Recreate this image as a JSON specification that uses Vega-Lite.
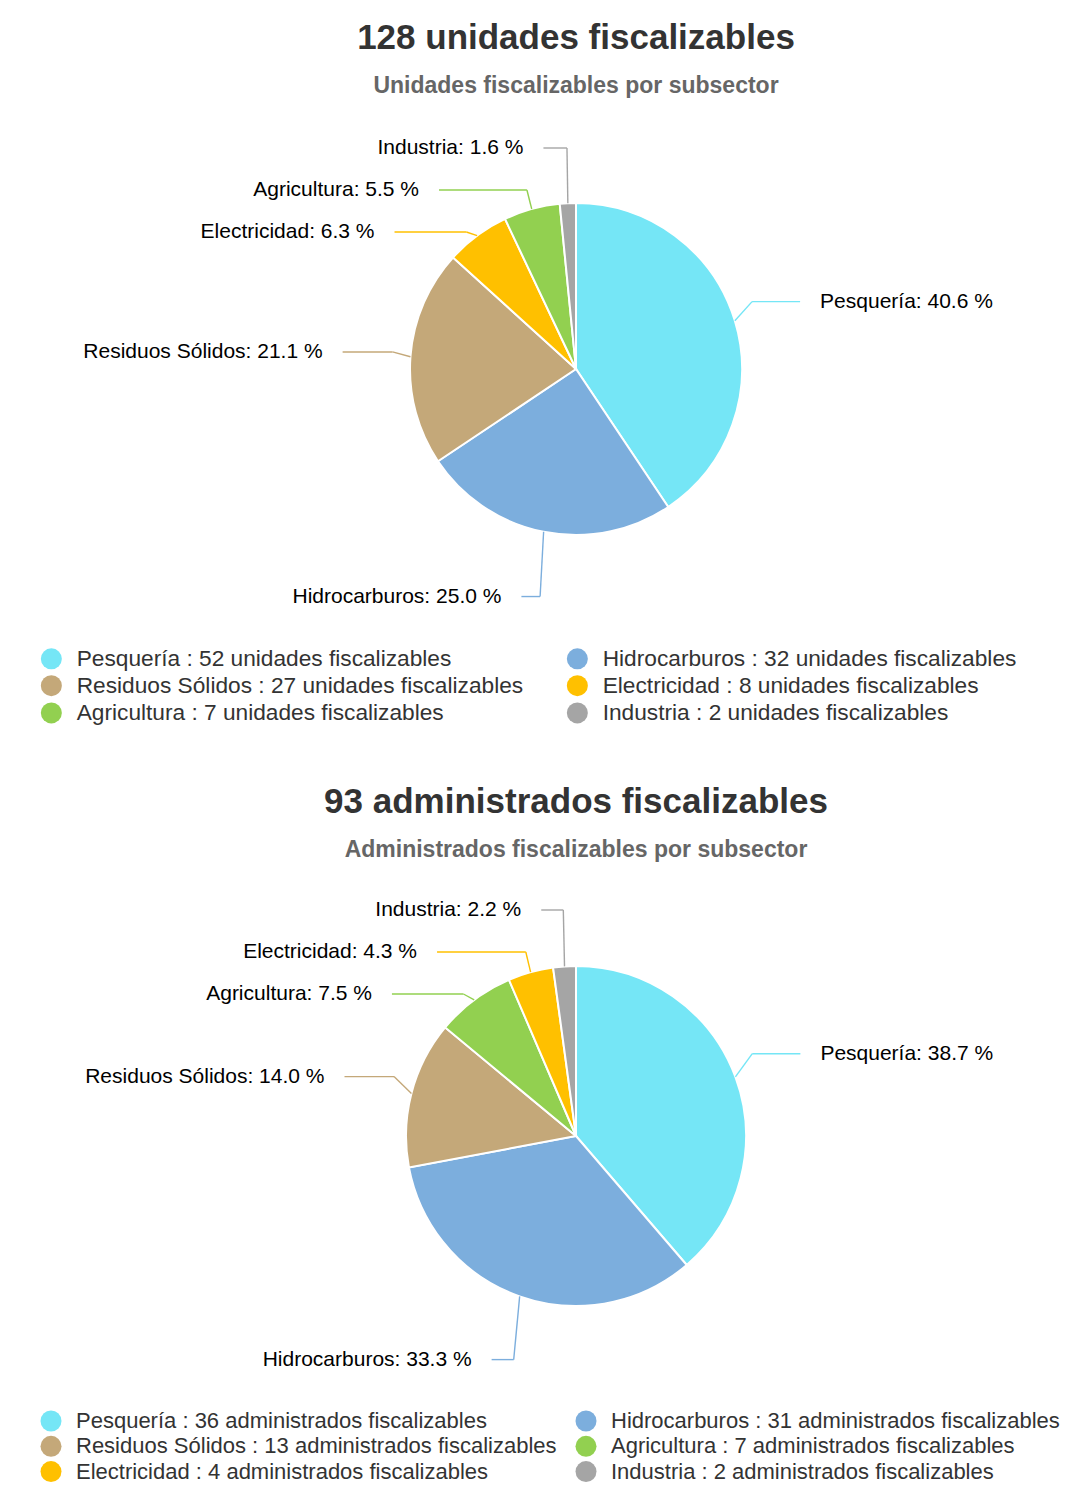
{
  "$schema": "https://vega.github.io/schema/vega-lite/v6.json",
  "padding": {"left": 40, "top": 21, "right": 0, "bottom": 0},
  "background": "white",
  "spacing": 60,
  "resolve": {"scale": {"color": "independent", "stroke": "independent", "x": "independent", "y": "independent"}, "legend": {"color": "independent"}},
  "config": {
    "font": "Liberation Sans",
    "view": {"stroke": null},
    "axis": {"disable": true},
    "title": {"fontSize": 35, "fontWeight": "bold", "color": "#333333", "subtitleFontSize": 23, "subtitleFontWeight": "bold", "subtitleColor": "#666666", "subtitlePadding": 19, "offset": 3, "anchor": "middle", "frame": "group"},
    "legend": {"padding": 0, "title": null, "symbolType": "circle", "symbolSize": 441, "symbolStrokeWidth": 0, "labelFontSize": 22.7, "labelColor": "#333333", "labelLimit": 800, "labelOffset": 14, "rowPadding": 3.3, "columnPadding": 42, "direction": "horizontal"}
  },
  "vconcat": [
    {
      "title": {"text": "128 unidades fiscalizables", "subtitle": "Unidades fiscalizables por subsector"},
      "width": 998,
      "height": 536,
      "data": {"values": [
        {"sector": "Pesquería", "n": 52},
        {"sector": "Hidrocarburos", "n": 32},
        {"sector": "Residuos Sólidos", "n": 27},
        {"sector": "Electricidad", "n": 8},
        {"sector": "Agricultura", "n": 7},
        {"sector": "Industria", "n": 2}
      ]},
      "transform": [
        {"joinaggregate": [{"op": "sum", "field": "n", "as": "total"}]},
        {"window": [{"op": "sum", "field": "n", "as": "cum"}], "sort": [{"field": "n", "order": "descending"}], "frame": [null, 0]},
        {"calculate": "2*PI*(datum.cum - datum.n/2)/datum.total", "as": "ang"},
        {"calculate": "sin(datum.ang) < 0 ? 'L' : 'R'", "as": "side"},
        {"calculate": "-232*cos(datum.ang)", "as": "ny"},
        {"window": [{"op": "row_number", "as": "k"}], "groupby": ["side"], "sort": [{"field": "ny", "order": "ascending"}]},
        {"calculate": "datum.ny - 42*(datum.k-1)", "as": "t"},
        {"window": [{"op": "max", "field": "t", "as": "cm"}], "groupby": ["side"], "sort": [{"field": "ny", "order": "ascending"}], "frame": [null, 0]},
        {"calculate": "42*(datum.k-1) + max(datum.cm, -221)", "as": "ly"},
        {"calculate": "(datum.side == 'L' ? -1 : 1) * sqrt(max(234*234 - pow(42*(datum.k-1) + datum.cm, 2), 0))", "as": "lx"},
        {"calculate": "184*sin(datum.ang)", "as": "bx"},
        {"calculate": "166*sin(datum.ang)", "as": "ex"},
        {"calculate": "-166*cos(datum.ang)", "as": "ey"},
        {"calculate": "datum.sector + ': ' + format(100*datum.n/datum.total, '.1f') + ' %'", "as": "etiqueta"},
        {"calculate": "datum.sector + ' : ' + datum.n + ' unidades fiscalizables'", "as": "leyenda"}
      ],
      "layer": [
        {
          "mark": {"type": "arc", "outerRadius": 166, "stroke": "white", "strokeWidth": 2},
          "encoding": {
            "theta": {"field": "n", "type": "quantitative", "stack": true},
            "order": {"field": "n", "type": "quantitative", "sort": "descending"},
            "color": {"field": "leyenda", "type": "nominal", "sort": {"field": "n", "op": "sum", "order": "descending"},
              "scale": {"range": ["#75e6f6", "#7caedd", "#c4a879", "#ffc000", "#92d050", "#a5a5a5"]},
              "legend": {"orient": "none", "legendX": -37, "legendY": 546, "columns": 2}}
          }
        },
        {
          "mark": {"type": "rule", "strokeWidth": 1.4},
          "encoding": {
            "x": {"field": "lx", "type": "quantitative", "scale": {"domain": [-499, 499], "nice": false, "zero": false}},
            "x2": {"field": "bx"},
            "y": {"field": "ly", "type": "quantitative", "scale": {"domain": [-268, 268], "reverse": true, "nice": false, "zero": false}},
            "y2": {"field": "ly"},
            "stroke": {"field": "leyenda", "type": "nominal", "sort": {"field": "n", "op": "sum", "order": "descending"},
              "scale": {"range": ["#75e6f6", "#7caedd", "#c4a879", "#ffc000", "#92d050", "#a5a5a5"]}, "legend": null}
          }
        },
        {
          "mark": {"type": "rule", "strokeWidth": 1.4},
          "encoding": {
            "x": {"field": "bx", "type": "quantitative", "scale": {"domain": [-499, 499], "nice": false, "zero": false}},
            "x2": {"field": "ex"},
            "y": {"field": "ly", "type": "quantitative", "scale": {"domain": [-268, 268], "reverse": true, "nice": false, "zero": false}},
            "y2": {"field": "ey"},
            "stroke": {"field": "leyenda", "type": "nominal", "sort": {"field": "n", "op": "sum", "order": "descending"},
              "scale": {"range": ["#75e6f6", "#7caedd", "#c4a879", "#ffc000", "#92d050", "#a5a5a5"]}, "legend": null}
          }
        },
        {
          "transform": [{"filter": "datum.side == 'L'"}],
          "mark": {"type": "text", "align": "right", "baseline": "middle", "dx": -20, "fontSize": 21, "color": "#000000"},
          "encoding": {
            "x": {"field": "lx", "type": "quantitative", "scale": {"domain": [-499, 499], "nice": false, "zero": false}},
            "y": {"field": "ly", "type": "quantitative", "scale": {"domain": [-268, 268], "reverse": true, "nice": false, "zero": false}},
            "text": {"field": "etiqueta"}
          }
        },
        {
          "transform": [{"filter": "datum.side == 'R'"}],
          "mark": {"type": "text", "align": "left", "baseline": "middle", "dx": 20, "fontSize": 21, "color": "#000000"},
          "encoding": {
            "x": {"field": "lx", "type": "quantitative", "scale": {"domain": [-499, 499], "nice": false, "zero": false}},
            "y": {"field": "ly", "type": "quantitative", "scale": {"domain": [-268, 268], "reverse": true, "nice": false, "zero": false}},
            "text": {"field": "etiqueta"}
          }
        }
      ]
    },
    {
      "title": {"text": "93 administrados fiscalizables", "subtitle": "Administrados fiscalizables por subsector", "offset": 6},
      "width": 998,
      "height": 536,
      "data": {"values": [
        {"sector": "Pesquería", "n": 36},
        {"sector": "Hidrocarburos", "n": 31},
        {"sector": "Residuos Sólidos", "n": 13},
        {"sector": "Agricultura", "n": 7},
        {"sector": "Electricidad", "n": 4},
        {"sector": "Industria", "n": 2}
      ]},
      "transform": [
        {"joinaggregate": [{"op": "sum", "field": "n", "as": "total"}]},
        {"window": [{"op": "sum", "field": "n", "as": "cum"}], "sort": [{"field": "n", "order": "descending"}], "frame": [null, 0]},
        {"calculate": "2*PI*(datum.cum - datum.n/2)/datum.total", "as": "ang"},
        {"calculate": "sin(datum.ang) < 0 ? 'L' : 'R'", "as": "side"},
        {"calculate": "-237*cos(datum.ang)", "as": "ny"},
        {"window": [{"op": "row_number", "as": "k"}], "groupby": ["side"], "sort": [{"field": "ny", "order": "ascending"}]},
        {"calculate": "datum.ny - 42*(datum.k-1)", "as": "t"},
        {"window": [{"op": "max", "field": "t", "as": "cm"}], "groupby": ["side"], "sort": [{"field": "ny", "order": "ascending"}], "frame": [null, 0]},
        {"calculate": "42*(datum.k-1) + max(datum.cm, -226)", "as": "ly"},
        {"calculate": "(datum.side == 'L' ? -1 : 1) * sqrt(max(239*239 - pow(42*(datum.k-1) + datum.cm, 2), 0))", "as": "lx"},
        {"calculate": "188*sin(datum.ang)", "as": "bx"},
        {"calculate": "170*sin(datum.ang)", "as": "ex"},
        {"calculate": "-170*cos(datum.ang)", "as": "ey"},
        {"calculate": "datum.sector + ': ' + format(100*datum.n/datum.total, '.1f') + ' %'", "as": "etiqueta"},
        {"calculate": "datum.sector + ' : ' + datum.n + ' administrados fiscalizables'", "as": "leyenda"}
      ],
      "layer": [
        {
          "mark": {"type": "arc", "outerRadius": 170, "stroke": "white", "strokeWidth": 2},
          "encoding": {
            "theta": {"field": "n", "type": "quantitative", "stack": true},
            "order": {"field": "n", "type": "quantitative", "sort": "descending"},
            "color": {"field": "leyenda", "type": "nominal", "sort": {"field": "n", "op": "sum", "order": "descending"},
              "scale": {"range": ["#75e6f6", "#7caedd", "#c4a879", "#92d050", "#ffc000", "#a5a5a5"]},
              "legend": {"orient": "none", "legendX": -37, "legendY": 542, "columns": 2, "labelFontSize": 22, "columnPadding": 18}}
          }
        },
        {
          "mark": {"type": "rule", "strokeWidth": 1.4},
          "encoding": {
            "x": {"field": "lx", "type": "quantitative", "scale": {"domain": [-499, 499], "nice": false, "zero": false}},
            "x2": {"field": "bx"},
            "y": {"field": "ly", "type": "quantitative", "scale": {"domain": [-268, 268], "reverse": true, "nice": false, "zero": false}},
            "y2": {"field": "ly"},
            "stroke": {"field": "leyenda", "type": "nominal", "sort": {"field": "n", "op": "sum", "order": "descending"},
              "scale": {"range": ["#75e6f6", "#7caedd", "#c4a879", "#92d050", "#ffc000", "#a5a5a5"]}, "legend": null}
          }
        },
        {
          "mark": {"type": "rule", "strokeWidth": 1.4},
          "encoding": {
            "x": {"field": "bx", "type": "quantitative", "scale": {"domain": [-499, 499], "nice": false, "zero": false}},
            "x2": {"field": "ex"},
            "y": {"field": "ly", "type": "quantitative", "scale": {"domain": [-268, 268], "reverse": true, "nice": false, "zero": false}},
            "y2": {"field": "ey"},
            "stroke": {"field": "leyenda", "type": "nominal", "sort": {"field": "n", "op": "sum", "order": "descending"},
              "scale": {"range": ["#75e6f6", "#7caedd", "#c4a879", "#92d050", "#ffc000", "#a5a5a5"]}, "legend": null}
          }
        },
        {
          "transform": [{"filter": "datum.side == 'L'"}],
          "mark": {"type": "text", "align": "right", "baseline": "middle", "dx": -20, "fontSize": 21, "color": "#000000"},
          "encoding": {
            "x": {"field": "lx", "type": "quantitative", "scale": {"domain": [-499, 499], "nice": false, "zero": false}},
            "y": {"field": "ly", "type": "quantitative", "scale": {"domain": [-268, 268], "reverse": true, "nice": false, "zero": false}},
            "text": {"field": "etiqueta"}
          }
        },
        {
          "transform": [{"filter": "datum.side == 'R'"}],
          "mark": {"type": "text", "align": "left", "baseline": "middle", "dx": 20, "fontSize": 21, "color": "#000000"},
          "encoding": {
            "x": {"field": "lx", "type": "quantitative", "scale": {"domain": [-499, 499], "nice": false, "zero": false}},
            "y": {"field": "ly", "type": "quantitative", "scale": {"domain": [-268, 268], "reverse": true, "nice": false, "zero": false}},
            "text": {"field": "etiqueta"}
          }
        }
      ]
    }
  ]
}
